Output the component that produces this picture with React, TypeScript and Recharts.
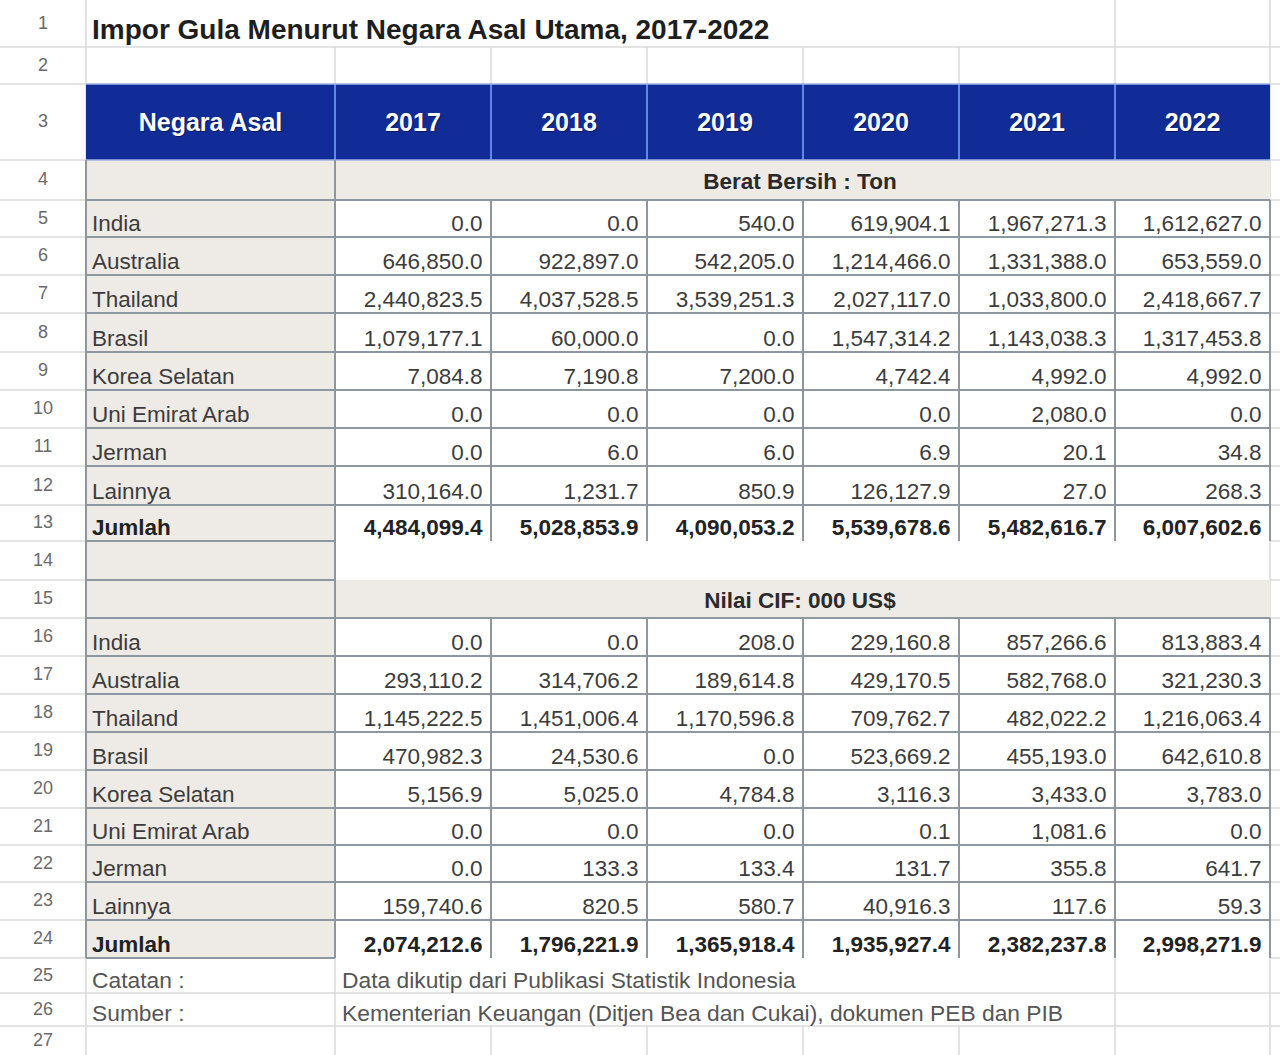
import React from 'react';
import { Surface, Layer, Rectangle, Text } from 'recharts';

const TITLE = 'Impor Gula Menurut Negara Asal Utama, 2017-2022';
const HEAD_FIRST = 'Negara Asal';
const years = ['2017', '2018', '2019', '2020', '2021', '2022'];
const countries = ['India', 'Australia', 'Thailand', 'Brasil', 'Korea Selatan', 'Uni Emirat Arab', 'Jerman', 'Lainnya'];
const TOTAL_LABEL = 'Jumlah';
const SECTION_WEIGHT = 'Berat Bersih : Ton';
const SECTION_VALUE = 'Nilai CIF: 000 US$';

const weightIndia = [0.0, 0.0, 540.0, 619904.1, 1967271.3, 1612627.0];
const weightAustralia = [646850.0, 922897.0, 542205.0, 1214466.0, 1331388.0, 653559.0];
const weightThailand = [2440823.5, 4037528.5, 3539251.3, 2027117.0, 1033800.0, 2418667.7];
const weightBrasil = [1079177.1, 60000.0, 0.0, 1547314.2, 1143038.3, 1317453.8];
const weightKorea = [7084.8, 7190.8, 7200.0, 4742.4, 4992.0, 4992.0];
const weightUAE = [0.0, 0.0, 0.0, 0.0, 2080.0, 0.0];
const weightJerman = [0.0, 6.0, 6.0, 6.9, 20.1, 34.8];
const weightLainnya = [310164.0, 1231.7, 850.9, 126127.9, 27.0, 268.3];
const weightJumlah = [4484099.4, 5028853.9, 4090053.2, 5539678.6, 5482616.7, 6007602.6];

const valueIndia = [0.0, 0.0, 208.0, 229160.8, 857266.6, 813883.4];
const valueAustralia = [293110.2, 314706.2, 189614.8, 429170.5, 582768.0, 321230.3];
const valueThailand = [1145222.5, 1451006.4, 1170596.8, 709762.7, 482022.2, 1216063.4];
const valueBrasil = [470982.3, 24530.6, 0.0, 523669.2, 455193.0, 642610.8];
const valueKorea = [5156.9, 5025.0, 4784.8, 3116.3, 3433.0, 3783.0];
const valueUAE = [0.0, 0.0, 0.0, 0.1, 1081.6, 0.0];
const valueJerman = [0.0, 133.3, 133.4, 131.7, 355.8, 641.7];
const valueLainnya = [159740.6, 820.5, 580.7, 40916.3, 117.6, 59.3];
const valueJumlah = [2074212.6, 1796221.9, 1365918.4, 1935927.4, 2382237.8, 2998271.9];

const noteLabels = ['Catatan :', 'Sumber :'];
const noteTexts = [
  'Data dikutip dari Publikasi Statistik Indonesia',
  'Kementerian Keuangan (Ditjen Bea dan Cukai), dokumen PEB dan PIB',
];

const weightRows = [weightIndia, weightAustralia, weightThailand, weightBrasil, weightKorea, weightUAE, weightJerman, weightLainnya];
const valueRows = [valueIndia, valueAustralia, valueThailand, valueBrasil, valueKorea, valueUAE, valueJerman, valueLainnya];

// layout
const W = 1280;
const H = 1055;
const colX = [86, 335, 491, 647, 803, 959, 1115, 1270];
const rowTop = [0, 47, 84, 160, 200, 237, 275, 313, 352, 390, 428, 466, 505, 541, 580, 618, 656, 694, 732, 770, 808, 845, 882, 920, 958, 993, 1026, 1055];
const FONT = '"Liberation Sans", Arial, Helvetica, sans-serif';
const BORDER = '#8e979f';
const GRID = '#dadada';
const BEIGE = '#eeeae6';
const BLUE = '#112b97';
const TXT = '#3c3c3c';

const fmt = (v: number) => v.toLocaleString('en-US', { minimumFractionDigits: 1, maximumFractionDigits: 1 });

const top = (r: number) => rowTop[r - 1];
const bot = (r: number) => rowTop[r];

function HLine({ x1, x2, y, color, w }: { x1: number; x2: number; y: number; color: string; w: number }) {
  return <line x1={x1} x2={x2} y1={y} y2={y} stroke={color} strokeWidth={w} />;
}
function VLine({ x, y1, y2, color, w }: { x: number; y1: number; y2: number; color: string; w: number }) {
  return <line x1={x} x2={x} y1={y1} y2={y2} stroke={color} strokeWidth={w} />;
}

function Block({ startRow, rows, total }: { startRow: number; rows: number[][]; total: number[] }) {
  const els: React.ReactNode[] = [];
  rows.forEach((vals, i) => {
    const r = startRow + i;
    const y = bot(r) - 6.5;
    els.push(
      <text key={`c${r}`} x={92} y={y} fontFamily={FONT} fontSize={22.5} fill={TXT}>
        {countries[i]}
      </text>
    );
    vals.forEach((v, j) => {
      els.push(
        <text key={`v${r}-${j}`} x={colX[j + 2] - 8.5} y={y} textAnchor="end" fontFamily={FONT} fontSize={22.5} fill={TXT}>
          {fmt(v)}
        </text>
      );
    });
  });
  const rt = startRow + rows.length;
  const yt = bot(rt) - 6;
  els.push(
    <text key={`t${rt}`} x={92} y={yt} fontFamily={FONT} fontSize={22.5} fontWeight="bold" fill="#222">
      {TOTAL_LABEL}
    </text>
  );
  total.forEach((v, j) => {
    els.push(
      <text key={`tv${rt}-${j}`} x={colX[j + 2] - 8.5} y={yt} textAnchor="end" fontFamily={FONT} fontSize={22.5} fontWeight="bold" fill="#222">
        {fmt(v)}
      </text>
    );
  });
  return <Layer>{els}</Layer>;
}

function BlockBorders({ firstRow, lastRow }: { firstRow: number; lastRow: number }) {
  const els: React.ReactNode[] = [];
  for (let r = firstRow; r <= lastRow; r++) {
    els.push(<HLine key={`h${r}`} x1={colX[0]} x2={colX[7]} y={top(r)} color={BORDER} w={2} />);
  }
  els.push(<HLine key="hb" x1={colX[0]} x2={colX[1]} y={bot(lastRow)} color={BORDER} w={2} />);
  for (let c = 2; c <= 7; c++) {
    els.push(<VLine key={`v${c}`} x={colX[c]} y1={top(firstRow)} y2={bot(lastRow)} color={BORDER} w={2} />);
  }
  return <Layer>{els}</Layer>;
}

export default function App() {
  const rowNums = Array.from({ length: 27 }, (_, i) => i + 1);
  const headers = [HEAD_FIRST, ...years];
  return (
    <div style={{ position: 'absolute', left: 0, top: 0, width: W, height: H, background: '#fff' }}>
      <Surface width={W} height={H} viewBox={{ x: 0, y: 0, width: W, height: H }}>
        <Rectangle x={0} y={0} width={W} height={H} fill="#ffffff" />
        {/* light spreadsheet grid */}
        <Layer>
          {rowTop.slice(1, 27).map((y, i) => (
            <HLine key={`rg${i}`} x1={0} x2={colX[0]} y={y} color={GRID} w={1.5} />
          ))}
          {rowTop.slice(1, 27).map((y, i) => (
            <HLine key={`rr${i}`} x1={colX[7]} x2={W} y={y} color={GRID} w={1.5} />
          ))}
          <VLine x={colX[0]} y1={0} y2={H} color={GRID} w={1.5} />
          <VLine x={colX[7]} y1={0} y2={H} color={GRID} w={1.5} />
          <VLine x={colX[6]} y1={0} y2={top(2)} color={GRID} w={1.5} />
          <HLine x1={colX[0]} x2={colX[7]} y={top(2)} color={GRID} w={1.5} />
          {colX.slice(1, 7).map((x, i) => (
            <VLine key={`r2${i}`} x={x} y1={top(2)} y2={bot(2)} color={GRID} w={1.5} />
          ))}
          <HLine x1={colX[0]} x2={colX[7]} y={top(26)} color={GRID} w={1.5} />
          <HLine x1={colX[0]} x2={colX[7]} y={top(27)} color={GRID} w={1.5} />
          <VLine x={colX[1]} y1={top(25)} y2={H} color={GRID} w={1.5} />
          <VLine x={colX[6]} y1={top(25)} y2={H} color={GRID} w={1.5} />
          {colX.slice(2, 6).map((x, i) => (
            <VLine key={`r27${i}`} x={x} y1={top(27)} y2={H} color={GRID} w={1.5} />
          ))}
        </Layer>

        {/* beige fills */}
        <Rectangle x={colX[0]} y={top(4)} width={colX[1] - colX[0]} height={bot(24) - top(4)} fill={BEIGE} />
        <Rectangle x={colX[1]} y={top(4)} width={colX[7] - colX[1]} height={bot(4) - top(4)} fill={BEIGE} />
        <Rectangle x={colX[1]} y={top(15)} width={colX[7] - colX[1]} height={bot(15) - top(15)} fill={BEIGE} />

        {/* header */}
        <Rectangle x={colX[0]} y={top(3)} width={colX[7] - colX[0]} height={bot(3) - top(3)} fill={BLUE} />
        <Layer>
          {colX.slice(1, 7).map((x, i) => (
            <VLine key={`hs${i}`} x={x} y1={top(3)} y2={bot(3)} color="#6187e4" w={2} />
          ))}
          <HLine x1={colX[0]} x2={colX[7]} y={top(3)} color="#9fb3e6" w={1.5} />
          <HLine x1={colX[0]} x2={colX[7]} y={bot(3)} color="#9fb3e6" w={1.5} />
        </Layer>

        {/* table borders */}
        <Layer>
          <VLine x={colX[0]} y1={top(4)} y2={bot(24)} color={BORDER} w={2} />
          <VLine x={colX[1]} y1={top(4)} y2={bot(24)} color={BORDER} w={2} />
          <BlockBorders firstRow={5} lastRow={13} />
          <HLine x1={colX[0]} x2={colX[1]} y={top(15)} color={BORDER} w={2} />
          <HLine x1={colX[0]} x2={colX[7]} y={bot(15)} color={BORDER} w={2} />
          <BlockBorders firstRow={16} lastRow={24} />
        </Layer>

        {/* row numbers */}
        <Layer>
          {rowNums.map((n) => (
            <text
              key={`n${n}`}
              x={43}
              y={(top(n) + bot(n)) / 2 - 1}
              textAnchor="middle"
              dominantBaseline="central"
              fontFamily={FONT}
              fontSize={18}
              fill="#6a6a6a"
            >
              {n}
            </text>
          ))}
        </Layer>

        {/* title */}
        <Text x={92} y={39} fontFamily={FONT} fontSize={28} fontWeight="bold" fill="#1e1e1e" verticalAnchor="end">
          {TITLE}
        </Text>

        {/* header labels */}
        <Layer>
          {headers.map((t, i) => (
            <text
              key={`hsh${i}`}
              x={(colX[i] + colX[i + 1]) / 2 + 1}
              y={(top(3) + bot(3)) / 2 + 1}
              textAnchor="middle"
              dominantBaseline="central"
              fontFamily={FONT}
              fontSize={25}
              fontWeight="bold"
              fill="#050f40"
              fillOpacity={0.7}
            >
              {t}
            </text>
          ))}
          {headers.map((t, i) => (
            <text
              key={`hd${i}`}
              x={(colX[i] + colX[i + 1]) / 2}
              y={(top(3) + bot(3)) / 2}
              textAnchor="middle"
              dominantBaseline="central"
              fontFamily={FONT}
              fontSize={25}
              fontWeight="bold"
              fill="#ffffff"
            >
              {t}
            </text>
          ))}
        </Layer>

        {/* section labels */}
        <text x={800} y={(top(4) + bot(4)) / 2 + 1} textAnchor="middle" dominantBaseline="central" fontFamily={FONT} fontSize={22.5} fontWeight="bold" fill="#2a2a2a">
          {SECTION_WEIGHT}
        </text>
        <text x={800} y={(top(15) + bot(15)) / 2 + 1} textAnchor="middle" dominantBaseline="central" fontFamily={FONT} fontSize={22.5} fontWeight="bold" fill="#2a2a2a">
          {SECTION_VALUE}
        </text>

        <Block startRow={5} rows={weightRows} total={weightJumlah} />
        <Block startRow={16} rows={valueRows} total={valueJumlah} />

        {/* notes */}
        <Layer>
          {noteLabels.map((l, i) => (
            <text key={`nl${i}`} x={92} y={bot(25 + i) - 5.5} fontFamily={FONT} fontSize={22.8} fill="#555">
              {l}
            </text>
          ))}
          {noteTexts.map((l, i) => (
            <text key={`nt${i}`} x={342} y={bot(25 + i) - 5.5} fontFamily={FONT} fontSize={22.8} fill="#555">
              {l}
            </text>
          ))}
        </Layer>
      </Surface>
    </div>
  );
}
